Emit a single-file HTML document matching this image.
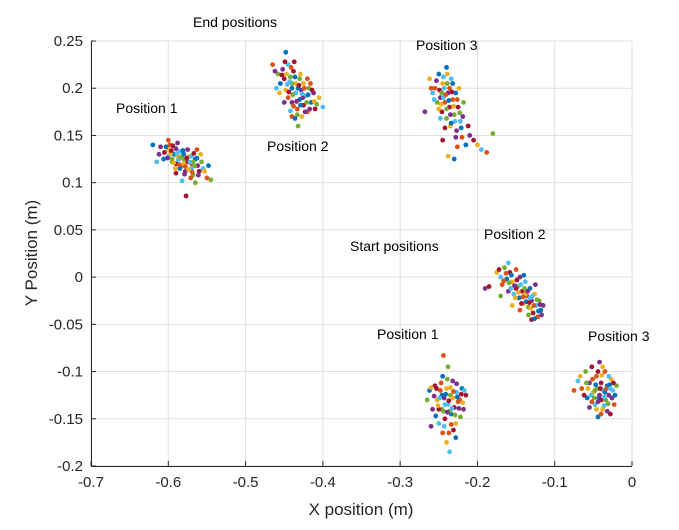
<!DOCTYPE html>
<html><head><meta charset="utf-8"><style>
body{margin:0;background:#fff;}
svg{display:block;font-family:"Liberation Sans",sans-serif;}
</style></head><body>
<svg id="chart" width="679" height="530" xmlns="http://www.w3.org/2000/svg">
<g id="grid"></g>
<g id="axes"></g>
<g id="points"></g>
<g id="labels"></g>
</svg>
<script>
const xTicks=[-0.7,-0.6,-0.5,-0.4,-0.3,-0.2,-0.1,0];
const yTicks=[-0.2,-0.15,-0.1,-0.05,0,0.05,0.1,0.15,0.2,0.25];
const xTickLabels=["-0.7","-0.6","-0.5","-0.4","-0.3","-0.2","-0.1","0"];
const yTickLabels=["-0.2","-0.15","-0.1","-0.05","0","0.05","0.1","0.15","0.2","0.25"];
const colors=["#0072BD","#D95319","#EDB120","#7E2F8E","#77AC30","#4DBEEE","#A2142F"];
const endP1=[[-0.62,0.14],[-0.61,0.138],[-0.605,0.132],[-0.60,0.135],[-0.60,0.128],[-0.598,0.14],[-0.595,0.125],[-0.592,0.13],[-0.59,0.136],[-0.59,0.12],[-0.588,0.128],[-0.585,0.133],[-0.583,0.118],[-0.58,0.125],[-0.58,0.13],[-0.578,0.112],[-0.575,0.122],[-0.573,0.128],[-0.57,0.115],[-0.57,0.12],[-0.568,0.108],[-0.565,0.125],[-0.562,0.118],[-0.56,0.112],[-0.558,0.13],[-0.555,0.115],[-0.55,0.105],[-0.595,0.122],[-0.585,0.115],[-0.575,0.135],[-0.59,0.11],[-0.58,0.12],[-0.57,0.128],[-0.6,0.145],[-0.565,0.1],[-0.548,0.118],[-0.612,0.13],[-0.577,0.086],[-0.597,0.131],[-0.587,0.124],[-0.578,0.117],[-0.568,0.122],
[-0.603,0.138],[-0.601,0.126],[-0.596,0.134],[-0.593,0.121],[-0.589,0.131],[-0.586,0.119],[-0.584,0.127],[-0.581,0.134],[-0.579,0.109],[-0.576,0.126],[-0.574,0.114],[-0.572,0.122],[-0.569,0.111],[-0.566,0.118],[-0.563,0.126],[-0.561,0.108],[-0.594,0.139],[-0.591,0.115],[-0.582,0.102],[-0.571,0.105],[-0.557,0.122],[-0.606,0.125],[-0.588,0.142],[-0.567,0.131],[-0.553,0.112],[-0.615,0.122],[-0.563,0.135],[-0.545,0.103]];
const endP2=[[-0.465,0.225],[-0.458,0.215],[-0.455,0.205],[-0.452,0.22],[-0.45,0.21],[-0.448,0.198],[-0.445,0.225],[-0.445,0.19],[-0.442,0.212],[-0.44,0.2],[-0.44,0.185],[-0.438,0.218],[-0.435,0.205],[-0.435,0.195],[-0.433,0.178],[-0.43,0.21],[-0.43,0.188],[-0.428,0.198],[-0.425,0.182],[-0.425,0.205],[-0.422,0.192],[-0.42,0.175],[-0.418,0.2],[-0.415,0.185],[-0.412,0.195],[-0.41,0.178],[-0.405,0.19],[-0.40,0.18],[-0.44,0.17],[-0.432,0.16],[-0.448,0.238],[-0.45,0.185],[-0.437,0.228],[-0.427,0.17],[-0.46,0.2],[-0.42,0.21],[-0.44,0.205],[-0.432,0.2],[-0.426,0.19],[-0.444,0.196],
[-0.447,0.215],[-0.443,0.207],[-0.441,0.222],[-0.439,0.193],[-0.436,0.212],[-0.434,0.186],[-0.431,0.203],[-0.429,0.215],[-0.427,0.194],[-0.424,0.2],[-0.421,0.185],[-0.419,0.193],[-0.417,0.178],[-0.414,0.198],[-0.411,0.186],[-0.446,0.204],[-0.438,0.181],[-0.433,0.172],[-0.429,0.182],[-0.423,0.175],[-0.453,0.214],[-0.456,0.195],[-0.442,0.176],[-0.416,0.205],[-0.408,0.183],[-0.436,0.168],[-0.462,0.218],[-0.449,0.228]];
const endP3=[[-0.262,0.21],[-0.258,0.195],[-0.255,0.2],[-0.252,0.185],[-0.25,0.215],[-0.248,0.19],[-0.246,0.175],[-0.245,0.205],[-0.243,0.2],[-0.242,0.185],[-0.24,0.168],[-0.24,0.222],[-0.238,0.195],[-0.236,0.18],[-0.235,0.16],[-0.234,0.21],[-0.232,0.188],[-0.23,0.172],[-0.228,0.195],[-0.227,0.155],[-0.225,0.18],[-0.224,0.2],[-0.222,0.165],[-0.22,0.148],[-0.218,0.185],[-0.215,0.14],[-0.21,0.15],[-0.205,0.145],[-0.2,0.14],[-0.195,0.135],[-0.188,0.132],[-0.18,0.152],[-0.23,0.125],[-0.268,0.175],[-0.245,0.145],[-0.238,0.128],[-0.244,0.19],[-0.236,0.2],[-0.24,0.178],[-0.232,0.205],
[-0.253,0.208],[-0.249,0.198],[-0.247,0.183],[-0.244,0.212],[-0.241,0.193],[-0.239,0.205],[-0.237,0.187],[-0.235,0.172],[-0.233,0.196],[-0.231,0.181],[-0.229,0.165],[-0.226,0.188],[-0.223,0.174],[-0.221,0.158],[-0.219,0.17],[-0.242,0.158],[-0.25,0.178],[-0.256,0.188],[-0.26,0.2],[-0.246,0.195],[-0.234,0.163],[-0.228,0.148],[-0.212,0.16],[-0.239,0.215],[-0.248,0.168],[-0.226,0.138]];
const startP2=[[-0.19,-0.012],[-0.185,-0.01],[-0.175,0.005],[-0.17,0.0],[-0.168,-0.008],[-0.165,0.01],[-0.162,-0.002],[-0.16,-0.015],[-0.158,0.005],[-0.155,-0.005],[-0.153,-0.018],[-0.15,0.008],[-0.148,-0.01],[-0.146,-0.022],[-0.145,0.0],[-0.142,-0.015],[-0.14,-0.028],[-0.138,-0.005],[-0.136,-0.02],[-0.134,-0.032],[-0.132,-0.012],[-0.13,-0.025],[-0.128,-0.038],[-0.126,-0.018],[-0.124,-0.03],[-0.122,-0.042],[-0.12,-0.025],[-0.118,-0.035],[-0.115,-0.03],[-0.13,-0.045],[-0.155,-0.03],[-0.16,0.015],[-0.145,-0.035],[-0.17,-0.02],[-0.14,0.002],[-0.125,-0.008],[-0.15,-0.012],[-0.138,-0.018],[-0.132,-0.022],
[-0.163,0.004],[-0.159,-0.006],[-0.156,0.002],[-0.152,-0.009],[-0.149,-0.003],[-0.147,-0.016],[-0.144,-0.008],[-0.141,-0.021],[-0.139,-0.012],[-0.137,-0.026],[-0.135,-0.015],[-0.133,-0.027],[-0.131,-0.033],[-0.129,-0.02],[-0.127,-0.03],[-0.123,-0.024],[-0.121,-0.036],[-0.119,-0.029],[-0.143,-0.028],[-0.151,-0.022],[-0.157,-0.012],[-0.166,-0.004],[-0.134,-0.04],[-0.126,-0.044],[-0.117,-0.04],[-0.172,0.008]];
const startP1=[[-0.265,-0.13],[-0.262,-0.12],[-0.258,-0.14],[-0.255,-0.115],[-0.252,-0.13],[-0.25,-0.155],[-0.248,-0.12],[-0.246,-0.14],[-0.245,-0.105],[-0.243,-0.128],[-0.242,-0.15],[-0.24,-0.118],[-0.238,-0.135],[-0.237,-0.165],[-0.235,-0.125],[-0.234,-0.145],[-0.232,-0.11],[-0.23,-0.138],[-0.228,-0.155],[-0.227,-0.122],[-0.225,-0.132],[-0.222,-0.148],[-0.22,-0.118],[-0.218,-0.14],[-0.215,-0.125],[-0.24,-0.175],[-0.236,-0.185],[-0.244,-0.083],[-0.238,-0.095],[-0.228,-0.17],[-0.26,-0.158],[-0.25,-0.14],[-0.232,-0.128],[-0.242,-0.135],[-0.223,-0.13],[-0.236,-0.142],[-0.246,-0.125],
[-0.256,-0.126],[-0.253,-0.118],[-0.251,-0.136],[-0.249,-0.128],[-0.247,-0.112],[-0.244,-0.142],[-0.241,-0.124],[-0.239,-0.143],[-0.237,-0.131],[-0.235,-0.117],[-0.233,-0.139],[-0.231,-0.121],[-0.229,-0.146],[-0.226,-0.127],[-0.224,-0.139],[-0.221,-0.124],[-0.219,-0.133],[-0.243,-0.158],[-0.234,-0.156],[-0.239,-0.108],[-0.254,-0.147],[-0.227,-0.113],[-0.231,-0.162],[-0.26,-0.117],[-0.217,-0.12],[-0.245,-0.165]];
const startP3=[[-0.07,-0.11],[-0.065,-0.118],[-0.06,-0.1],[-0.058,-0.128],[-0.055,-0.112],[-0.052,-0.095],[-0.05,-0.122],[-0.048,-0.135],[-0.046,-0.105],[-0.045,-0.118],[-0.043,-0.128],[-0.042,-0.09],[-0.04,-0.112],[-0.038,-0.14],[-0.037,-0.12],[-0.035,-0.1],[-0.034,-0.13],[-0.032,-0.115],[-0.03,-0.125],[-0.028,-0.145],[-0.027,-0.108],[-0.025,-0.12],[-0.023,-0.135],[-0.02,-0.115],[-0.044,-0.148],[-0.055,-0.138],[-0.062,-0.125],[-0.038,-0.095],[-0.03,-0.105],[-0.075,-0.12],[-0.048,-0.12],[-0.035,-0.122],[-0.042,-0.125],[-0.04,-0.13],
[-0.057,-0.118],[-0.053,-0.125],[-0.051,-0.108],[-0.049,-0.128],[-0.047,-0.114],[-0.044,-0.132],[-0.041,-0.118],[-0.039,-0.104],[-0.036,-0.127],[-0.033,-0.118],[-0.031,-0.134],[-0.029,-0.114],[-0.026,-0.128],[-0.024,-0.112],[-0.046,-0.14],[-0.036,-0.136],[-0.052,-0.132],[-0.059,-0.112],[-0.022,-0.125],[-0.032,-0.142],[-0.044,-0.1],[-0.067,-0.105],[-0.028,-0.118],[-0.04,-0.145]];
const clusterNames=["end-position-1","end-position-2","end-position-3","start-position-2","start-position-1","start-position-3"];
const clusters=[endP1,endP2,endP3,startP2,startP1,startP3];

const L=91,R=632,T=41,B=466,xMin=-0.7,xMax=0,yMin=-0.2,yMax=0.25;
const sx=v=>L+(v-xMin)/(xMax-xMin)*(R-L);
const sy=v=>B-(v-yMin)/(yMax-yMin)*(B-T);
const NS="http://www.w3.org/2000/svg";
function mk(tag,attrs,parent){const e=document.createElementNS(NS,tag);for(const k in attrs)e.setAttribute(k,attrs[k]);parent.appendChild(e);return e;}
const grid=document.getElementById('grid'),axes=document.getElementById('axes'),pts=document.getElementById('points'),lab=document.getElementById('labels');
mk('rect',{x:L,y:T,width:R-L,height:B-T,fill:'#fff'},grid);
xTicks.forEach((t,i)=>{
  const x=sx(t);
  const g=mk('line',{x1:x,x2:x,y1:T,y2:B,stroke:'#dfdfdf','stroke-width':1},grid);
  
  
  mk('line',{x1:x,x2:x,y1:B,y2:B-5,stroke:'#262626'},axes);
  const tx=mk('text',{x:x,y:B+21,'text-anchor':'middle','font-size':15,fill:'#262626'},axes);
  tx.textContent=xTickLabels[i];
  
  
});
yTicks.forEach((t,i)=>{
  const y=sy(t);
  const g=mk('line',{x1:L,x2:R,y1:y,y2:y,stroke:'#dfdfdf','stroke-width':1},grid);
  
  
  mk('line',{x1:L,x2:L+5,y1:y,y2:y,stroke:'#262626'},axes);
  const tx=mk('text',{x:L-8,y:y+5,'text-anchor':'end','font-size':15,fill:'#262626'},axes);
  tx.textContent=yTickLabels[i];
  
  
});
mk('line',{x1:L,x2:R,y1:B+0.5,y2:B+0.5,stroke:'#262626'},axes);
mk('line',{x1:L+0.5,x2:L+0.5,y1:T,y2:B,stroke:'#262626'},axes);
clusters.forEach((c,ci)=>{
  const g=mk('g',{},pts);
  
  
  c.forEach((p,i)=>{
    const d=mk('circle',{cx:sx(p[0]),cy:sy(p[1]),r:2.4,fill:colors[(i*3+ci)%7]},g);
    
    
  });
});
const ann=[["End positions",193,27,"end-positions-title"],["Position 1",116,113,"end-position-1-label"],["Position 2",267,151,"end-position-2-label"],["Position 3",416,50,"end-position-3-label"],["Start positions",350,251,"start-positions-title"],["Position 2",484,239,"start-position-2-label"],["Position 1",377,339,"start-position-1-label"],["Position 3",588,341,"start-position-3-label"]];
ann.forEach(a=>{
  const t=mk('text',{x:a[1],y:a[2],'font-size':14,fill:'#000'},lab);
  t.textContent=a[0];
  
  
});
const xl=mk('text',{x:361,y:515,'text-anchor':'middle','font-size':17,fill:'#262626'},lab);
xl.textContent="X position (m)";


const yl=mk('text',{x:0,y:0,'text-anchor':'middle','font-size':17,fill:'#262626',transform:'translate(37,253) rotate(-90)'},lab);
yl.textContent="Y Position (m)";


</script>
</body></html>
